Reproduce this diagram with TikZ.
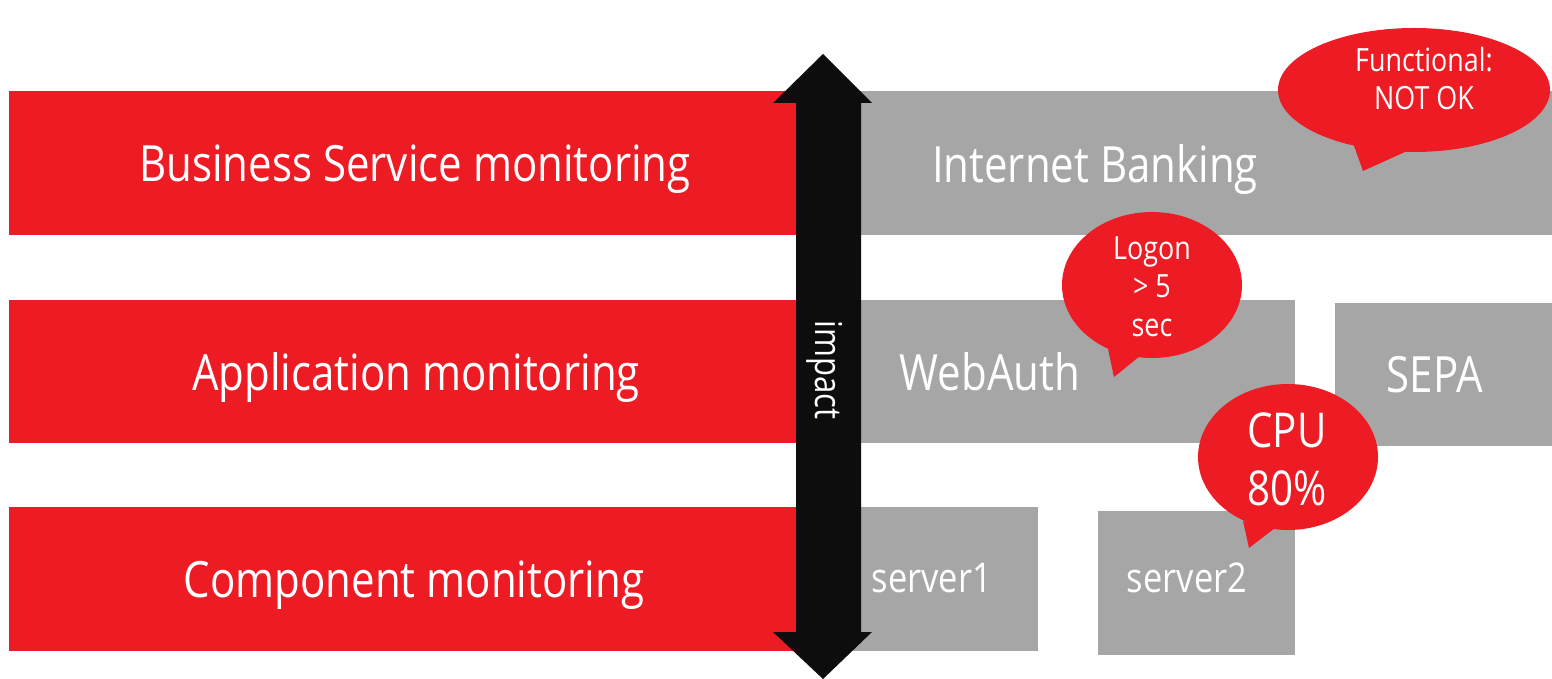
\documentclass[tikz,border=0pt]{standalone}
\usepackage{fontspec}
\setmainfont{Open Sans}[FakeStretch=0.84]
\usetikzlibrary{positioning}
\definecolor{bandred}{HTML}{ED1C24}
\definecolor{tilegray}{HTML}{A6A6A6}
\definecolor{arrowblack}{HTML}{0D0D0D}

\begin{document}
\begin{tikzpicture}[x=0.5pt, y=-0.5pt,
	band/.style={fill=bandred},
	tile/.style={fill=tilegray},
	txt/.style={white, anchor=base, inner sep=0pt},
	big/.style={txt, font=\fontsize{25}{30}\selectfont},
	mid/.style={txt, font=\fontsize{25}{30}\selectfont},
	small/.style={txt, font=\fontsize{16}{19}\selectfont}]
	\useasboundingbox (0,0) rectangle (1552,679);

	% layers on the left
	\fill [band] (9,91) rectangle (815,235);
	\fill [band] (9,300) rectangle (815,443);
	\fill [band] (9,507) rectangle (815,651);
	\node [big] (business) at (415,182) {Business Service monitoring};
	\node [big] (application) at (416,390) {Application monitoring};
	\node [big] (component) at (414,597) {Component monitoring};

	% services on the right
	\fill [tile] (850,91) rectangle (1552,235);
	\fill [tile] (850,300) rectangle (1295,443);
	\fill [tile] (1335,303) rectangle (1552,446);
	\fill [tile] (850,507) rectangle (1038,651);
	\fill [tile] (1098,511) rectangle (1295,655);
	\node [mid] (banking) at (1095,183) {Internet Banking};
	\node [mid] (webauth) at (990,390) {WebAuth};
	\node [mid] (sepa) at (1435,392) {SEPA};
	\node [txt, font=\fontsize{20.5}{24}\selectfont] (server1) at (932,592) {server1};
	\node [txt, font=\fontsize{20.5}{24}\selectfont] (server2) at (1187,592) {server2};

	% impact arrow
	\fill [arrowblack] (823,54) -- (872,103) -- (861,103) -- (861,632) -- (872,632)
		-- (823,679) -- (773,632) -- (796,632) -- (796,103) -- (773,103) -- cycle;
	\node [txt, rotate=-90, font=\fontsize{18.5}{22}\selectfont] (impact) at (815,370) {impact};

	% callouts
	\fill [band] (1414,90) ellipse (136 and 62);
	\fill [band] (1353,143) -- (1363,171) -- (1405,152) -- cycle;
	\node [small] (functional) at (1424,72) {Functional:};
	\node [small] (notok) at (1424,110) {NOT OK};

	\fill [band] (1152,285) ellipse (90 and 73);
	\fill [band] (1108,349) -- (1114,377) -- (1140,356) -- cycle;
	\node [small] (logon) at (1152,260) {Logon};
	\node [small] (limit) at (1152,298) {> 5};
	\node [small] (sec) at (1152,336) {sec};

	\fill [band] (1288,457) ellipse (90 and 73);
	\fill [band] (1243,521) -- (1249,548) -- (1275,528) -- cycle;
	\node [txt, font=\fontsize{24}{29}\selectfont] (cpu) at (1287,447) {CPU};
	\node [txt, font=\fontsize{24}{29}\selectfont] (load) at (1287,505) {80\%};
\end{tikzpicture}
\end{document}
